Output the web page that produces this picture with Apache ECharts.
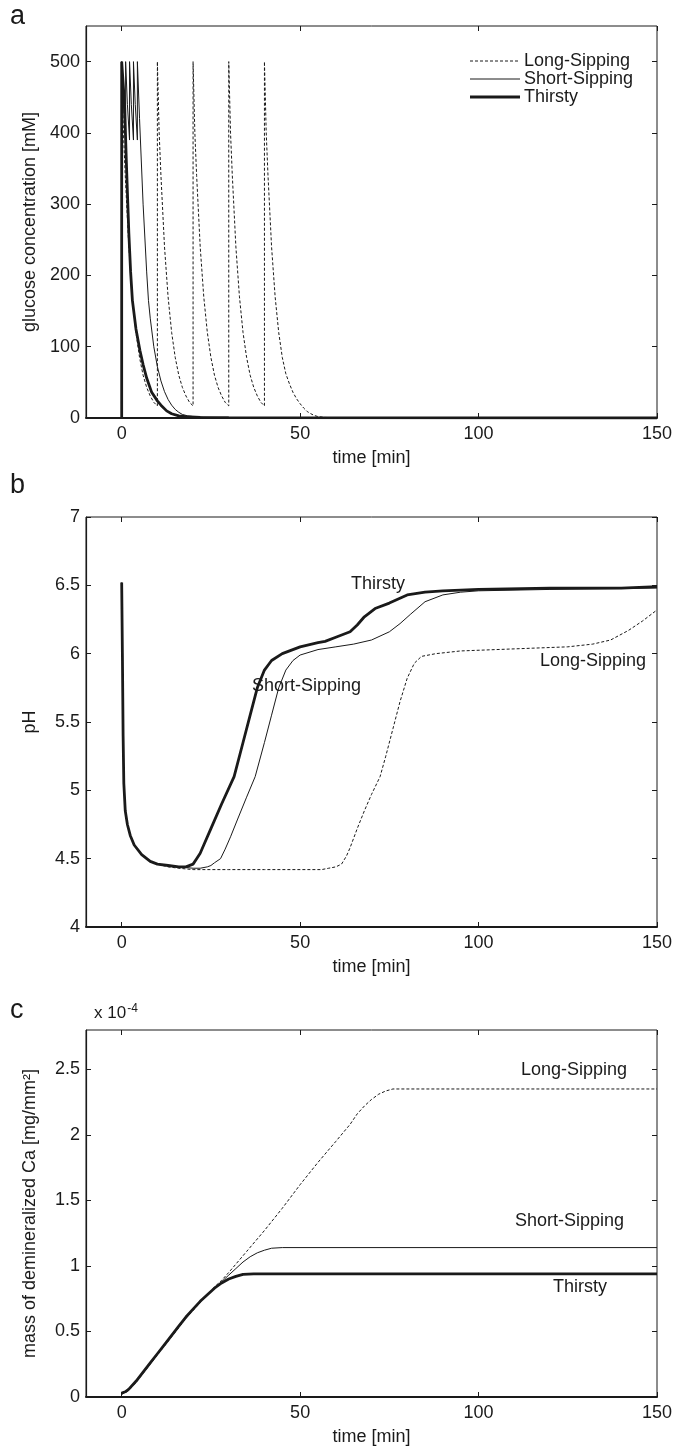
<!DOCTYPE html>
<html>
<head>
<meta charset="utf-8">
<script src="https://cdn.jsdelivr.net/npm/echarts@6/dist/echarts.min.js"></script>
<style>
  html, body { margin: 0; padding: 0; background: #fff; }
  #chart { width: 685px; height: 1451px; }
</style>
</head>
<body>
<div id="chart"></div>
<script>
// time ticks shared by the three panels
var timeTicks = [0, 50, 100, 150];
var glucoseTicks = [0, 100, 200, 300, 400, 500];
var phTicks = [4, 4.5, 5, 5.5, 6, 6.5, 7];
var caTicks = [0, 0.5, 1, 1.5, 2, 2.5];
var seriesNames = ['Long-Sipping', 'Short-Sipping', 'Thirsty'];

// a: glucose concentration [mM], [time, value]
var glucoseLong = [
  [0, 0], [0, 500], [0.5, 400], [1, 340], [2, 240], [3, 170], [4, 120], [5, 85], [6, 60], [7, 43], [8, 31], [9, 22], [10, 17],
  [10, 500], [10.5, 400], [11, 340], [12, 240], [13, 170], [14, 120], [15, 85], [16, 60], [17, 43], [18, 31], [19, 22], [20, 17],
  [20, 500], [20.5, 400], [21, 340], [22, 240], [23, 170], [24, 120], [25, 85], [26, 60], [27, 43], [28, 31], [29, 22], [30, 17],
  [30, 500], [30.5, 400], [31, 340], [32, 240], [33, 170], [34, 120], [35, 85], [36, 60], [37, 43], [38, 31], [39, 22], [40, 17],
  [40, 500], [40.5, 400], [41, 340], [42, 240], [43, 170], [44, 120], [45, 85], [46, 62], [47, 48], [48, 36], [49, 27], [50, 20],
  [51, 14], [52, 9], [53, 6], [54, 3.5], [55, 2], [57, 0.8], [60, 0.3], [100, 0.2], [150, 0]
];
var glucoseShort = [
  [0, 0], [0, 500], [0.5, 440], [1.1, 390], [1.1, 500], [1.6, 440], [2.2, 390], [2.2, 500], [2.7, 440], [3.3, 390],
  [3.3, 500], [3.8, 440], [4.4, 390], [4.4, 500], [5, 420], [6, 300], [7, 205], [7.5, 165], [8, 140], [9, 100], [10, 72],
  [11, 52], [12, 37], [13, 26], [14, 18], [15, 12], [16, 8], [17, 5], [18.5, 3], [20, 2], [23, 1], [30, 0.5], [150, 0]
];
var glucoseThirsty = [
  [0, 0], [0, 500], [0.4, 500], [0.8, 440], [1.3, 360], [2, 260], [2.5, 205], [3, 165], [4, 125], [5.1, 95], [6, 75],
  [7, 56], [8.4, 36], [10, 24], [11, 18], [12.6, 10], [14, 6], [16, 3], [18, 2], [22, 1], [30, 0.5], [150, 0]
];

// b: pH
var phLong = [
  [0, 6.52], [0.2, 6.0], [0.4, 5.4], [0.6, 5.05], [1, 4.85], [1.6, 4.75], [2.4, 4.67], [3.5, 4.6], [5.6, 4.53], [8, 4.48],
  [10, 4.46], [13, 4.44], [16, 4.43], [20, 4.42], [30, 4.42], [40, 4.42], [50, 4.42], [56, 4.42], [58, 4.43], [60, 4.44],
  [61.6, 4.46], [63, 4.52], [64, 4.58], [66, 4.72], [68, 4.85], [70, 4.97], [72.4, 5.1], [74, 5.25], [76, 5.45], [78, 5.65],
  [80, 5.82], [82, 5.93], [84, 5.98], [88, 6.0], [95, 6.02], [105, 6.03], [115, 6.04], [125, 6.05], [132, 6.07], [137, 6.1],
  [142, 6.17], [146, 6.24], [150, 6.32]
];
var phShort = [
  [0, 6.52], [0.2, 6.0], [0.4, 5.4], [0.6, 5.05], [1, 4.85], [1.6, 4.75], [2.4, 4.67], [3.5, 4.6], [5.6, 4.53], [8, 4.48],
  [10, 4.46], [13, 4.45], [16, 4.44], [20, 4.43], [22, 4.43], [24, 4.44], [25, 4.45], [26, 4.47], [27.7, 4.5], [29, 4.57],
  [30.5, 4.66], [32.5, 4.79], [35, 4.95], [37.4, 5.1], [40, 5.35], [42, 5.55], [44, 5.75], [46, 5.88], [48, 5.95], [50, 5.99],
  [55, 6.03], [60, 6.05], [65, 6.07], [70, 6.1], [75, 6.16], [78, 6.22], [81, 6.29], [85, 6.38], [90, 6.43], [95, 6.45],
  [100, 6.46], [120, 6.47], [150, 6.48]
];
var phThirsty = [
  [0, 6.52], [0.2, 6.0], [0.4, 5.4], [0.6, 5.05], [1, 4.85], [1.6, 4.75], [2.4, 4.67], [3.5, 4.6], [5.6, 4.53], [8, 4.48],
  [10, 4.46], [13, 4.45], [16, 4.44], [18, 4.44], [20, 4.46], [21, 4.5], [22, 4.54], [23, 4.6], [25, 4.72], [28, 4.9],
  [31.5, 5.1], [34, 5.35], [36, 5.55], [38, 5.75], [40, 5.88], [42, 5.95], [45, 6.0], [50, 6.05], [55, 6.08], [57, 6.09],
  [60, 6.12], [64, 6.16], [66, 6.21], [68, 6.27], [71, 6.33], [75, 6.37], [80, 6.43], [85, 6.45], [90, 6.46], [100, 6.47],
  [120, 6.48], [140, 6.48], [150, 6.49]
];

// c: mass of demineralized Ca, units of 1e-4 mg/mm^2
var caLong = [
  [0, 0.02], [2, 0.05], [4, 0.11], [6, 0.18], [8, 0.25], [10, 0.32], [12, 0.39], [14, 0.46], [16, 0.53], [18, 0.6],
  [20, 0.66], [22, 0.72], [24, 0.78], [26, 0.84], [28, 0.89], [30, 0.95], [35, 1.11], [40, 1.27], [45, 1.44], [50, 1.62],
  [55, 1.79], [60, 1.95], [64, 2.08], [66, 2.16], [68, 2.22], [70, 2.27], [72, 2.31], [74, 2.335], [76, 2.35], [150, 2.35]
];
var caShort = [
  [0, 0.03], [1, 0.04], [2, 0.06], [4, 0.12], [6, 0.19], [8, 0.26], [10, 0.33], [12, 0.4], [14, 0.47], [16, 0.54],
  [18, 0.61], [20, 0.67], [22, 0.73], [24, 0.78], [26, 0.83], [28, 0.88], [30, 0.93], [32, 0.98], [34, 1.03], [36, 1.07],
  [38, 1.1], [40, 1.12], [42, 1.135], [45, 1.14], [150, 1.14]
];
var caThirsty = [
  [0, 0.03], [1, 0.04], [2, 0.06], [4, 0.12], [6, 0.19], [8, 0.26], [10, 0.33], [12, 0.4], [14, 0.47], [16, 0.54],
  [18, 0.61], [20, 0.67], [22, 0.73], [24, 0.78], [26, 0.83], [28, 0.87], [30, 0.9], [32, 0.92], [34, 0.935], [37, 0.94],
  [150, 0.94]
];

var font = 'Liberation Sans, Arial, sans-serif';
var fs = 18;
var ink = '#1a1a1a';

var chart = echarts.init(document.getElementById('chart'), null, { renderer: 'canvas' });

var grids = [
  { left: 86, top: 26, width: 571, height: 392 },
  { left: 86, top: 517, width: 571, height: 410 },
  { left: 86, top: 1030, width: 571, height: 367 }
];
grids.forEach(function (g) {
  g.show = true; g.borderColor = ink; g.borderWidth = 1; g.backgroundColor = 'transparent';
});

function xAx(i, top) {
  return {
    type: 'value', gridIndex: i, min: -10, max: 150, position: top ? 'top' : 'bottom',
    splitLine: { show: false },
    axisLine: { show: !top, onZero: false, lineStyle: { color: ink, width: 2 } },
    axisTick: { show: true, inside: true, length: 5, customValues: timeTicks, lineStyle: { color: ink } },
    axisLabel: { show: !top, customValues: timeTicks, margin: 7, fontSize: fs, color: ink, fontFamily: font },
    name: top ? '' : 'time [min]', nameLocation: 'middle', nameGap: 31,
    nameTextStyle: { fontSize: fs, color: ink, fontFamily: font }
  };
}
function yAx(i, right, min, max, ticks, name) {
  return {
    type: 'value', gridIndex: i, min: min, max: max, position: right ? 'right' : 'left',
    splitLine: { show: false },
    axisLine: { show: !right, onZero: false, lineStyle: { color: ink, width: 1.2 } },
    axisTick: { show: true, inside: true, length: 5, customValues: ticks, lineStyle: { color: ink } },
    axisLabel: { show: !right, customValues: ticks, margin: 6, fontSize: fs, color: ink, fontFamily: font },
    name: right ? '' : name, nameLocation: 'middle', nameGap: 47, nameRotate: 90,
    nameTextStyle: { fontSize: fs, color: ink, fontFamily: font }
  };
}

var styles = [
  { color: ink, width: 1, type: [3, 2] },
  { color: ink, width: 1 },
  { color: ink, width: 2.8 }
];

function line(k, data, i) {
  return {
    name: seriesNames[k], type: 'line', data: data, xAxisIndex: i, yAxisIndex: i,
    symbol: 'none', showSymbol: false, lineStyle: styles[k],
    animation: false, clip: true, z: k === 2 ? 3 : 2
  };
}

function txt(x, y, s, size) {
  return {
    type: 'text', left: x, top: y,
    style: { text: s, fontSize: size || fs, fill: ink, fontFamily: font }
  };
}

// legend of panel a, drawn as line samples plus text
var legendRows = [61, 79, 97];
var legend = [];
seriesNames.forEach(function (n, k) {
  legend.push({
    type: 'line', shape: { x1: 470, y1: legendRows[k], x2: 520, y2: legendRows[k] },
    style: { stroke: ink, lineWidth: styles[k].width, lineDash: k === 0 ? [3, 2] : null }
  });
  legend.push({
    type: 'text', x: 524, y: legendRows[k],
    style: { text: n, fontSize: fs, fill: ink, fontFamily: font, textVerticalAlign: 'middle' }
  });
});

var option = {
  backgroundColor: '#fff',
  animation: false,
  grid: grids,
  xAxis: [xAx(0), xAx(1), xAx(2), xAx(0, true), xAx(1, true), xAx(2, true)],
  yAxis: [
    yAx(0, false, 0, 550, glucoseTicks, 'glucose concentration [mM]'),
    yAx(1, false, 4, 7, phTicks, 'pH'),
    yAx(2, false, 0, 2.8, caTicks, 'mass of demineralized Ca [mg/mm²]'),
    yAx(0, true, 0, 550, glucoseTicks),
    yAx(1, true, 4, 7, phTicks),
    yAx(2, true, 0, 2.8, caTicks)
  ],
  series: [
    line(0, glucoseLong, 0), line(1, glucoseShort, 0), line(2, glucoseThirsty, 0),
    line(0, phLong, 1), line(1, phShort, 1), line(2, phThirsty, 1),
    line(0, caLong, 2), line(1, caShort, 2), line(2, caThirsty, 2)
  ],
  graphic: legend.concat([
    txt(10, 3, 'a', 27),
    txt(10, 472, 'b', 27),
    txt(10, 997, 'c', 27),
    {
      type: 'text', left: 94, top: 1003,
      style: {
        text: 'x 10{s|-4}', fontSize: 17, fill: ink, fontFamily: font,
        rich: { s: { fontSize: 12, verticalAlign: 'top', padding: [0, 0, 8, 1], fontFamily: font, fill: ink } }
      }
    },
    txt(351, 575, 'Thirsty'),
    txt(252, 677, 'Short-Sipping'),
    txt(540, 652, 'Long-Sipping'),
    txt(521, 1061, 'Long-Sipping'),
    txt(515, 1212, 'Short-Sipping'),
    txt(553, 1278, 'Thirsty')
  ])
};

chart.setOption(option);
</script>
</body>
</html>
